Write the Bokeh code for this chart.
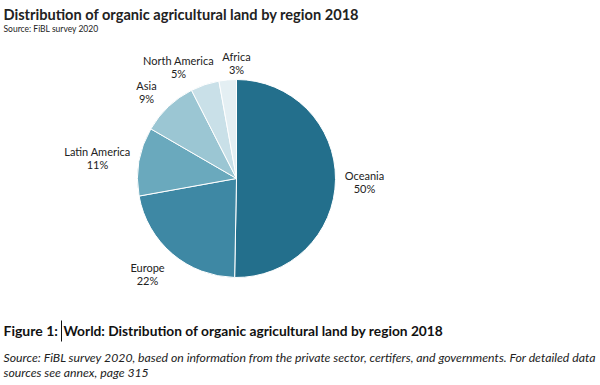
import math
from bokeh.plotting import figure
from bokeh.models import Range1d, Label, ColumnDataSource
from bokeh.embed import file_html
from bokeh.resources import INLINE

# ---- data (million hectares, FiBL survey 2020, year 2018) ----
regions = ["Oceania", "Europe", "Latin America", "Asia", "North America", "Africa"]
areas = [35.99, 15.64, 8.01, 6.54, 3.34, 2.03]
pct_labels = ["50%", "22%", "11%", "9%", "5%", "3%"]
colors = ["#236f8c", "#3e88a4", "#6aa9bd", "#9bc6d3", "#c9e0e8", "#e4eff3"]

W, H = 600, 385
FONT = "Lato"

p = figure(width=W, height=H, output_backend="svg", toolbar_location=None,
           x_range=Range1d(0, W), y_range=Range1d(0, H), min_border=0)
p.axis.visible = False
p.grid.visible = False
p.outline_line_color = None
p.background_fill_color = "white"
p.border_fill_color = "white"

def Y(y):
    return H - y

# pie geometry (layout)
cx, cy, R = 236, Y(178), 99
total = sum(areas)
starts, ends = [], []
cum = 0.0
for a in areas:
    starts.append(math.pi / 2 - 2 * math.pi * cum / total)
    cum += a
    ends.append(math.pi / 2 - 2 * math.pi * cum / total)

src = ColumnDataSource(dict(x=[cx] * len(areas), y=[cy] * len(areas),
                            start=starts, end=ends, color=colors))
p.wedge(x="x", y="y", radius=R, radius_units="screen", start_angle="start",
        end_angle="end", direction="clock", fill_color="color",
        line_color="white", line_width=1, source=src)

# label positions (layout)
label_pos = [(364, 175), (147, 267), (97, 151), (146, 85), (178, 60), (236, 56)]
for (lx, ly), name, pct in zip(label_pos, regions, pct_labels):
    p.add_layout(Label(x=lx, y=Y(ly), text=name, text_align="center",
                       text_baseline="middle", text_font=FONT,
                       text_font_size="11px", text_color="#222222"))
    p.add_layout(Label(x=lx, y=Y(ly + 13), text=pct, text_align="center",
                       text_baseline="middle", text_font=FONT,
                       text_font_size="11px", text_color="#222222"))

# title
p.add_layout(Label(x=3, y=Y(14), text="Distribution of organic agricultural land by region 2018",
                   text_align="left", text_baseline="middle", text_font=FONT,
                   text_font_style="bold", text_font_size="14.6px", text_color="#222222"))
p.add_layout(Label(x=3, y=Y(28), text="Source: FiBL survey 2020",
                   text_align="left", text_baseline="middle", text_font=FONT,
                   text_font_size="8.5px", text_color="#222222"))

# caption
p.add_layout(Label(x=3, y=Y(330), text="Figure 1:",
                   text_align="left", text_baseline="middle", text_font=FONT,
                   text_font_style="bold", text_font_size="14px", text_color="#111111"))
p.line(x=[61, 61], y=[Y(320), Y(341)], line_color="#111111", line_width=1)
p.add_layout(Label(x=63, y=Y(330), text="World: Distribution of organic agricultural land by region 2018",
                   text_align="left", text_baseline="middle", text_font=FONT,
                   text_font_style="bold", text_font_size="13.75px", text_color="#111111"))
p.add_layout(Label(x=3, y=Y(357), text="Source: FiBL survey 2020, based on information from the private sector, certifers, and governments. For detailed data",
                   text_align="left", text_baseline="middle", text_font=FONT,
                   text_font_style="italic", text_font_size="12.25px", text_color="#222222"))
p.add_layout(Label(x=3, y=Y(372), text="sources see annex, page 315",
                   text_align="left", text_baseline="middle", text_font=FONT,
                   text_font_style="italic", text_font_size="12.25px", text_color="#222222"))

open("out.html", "w").write(file_html(p, INLINE))
